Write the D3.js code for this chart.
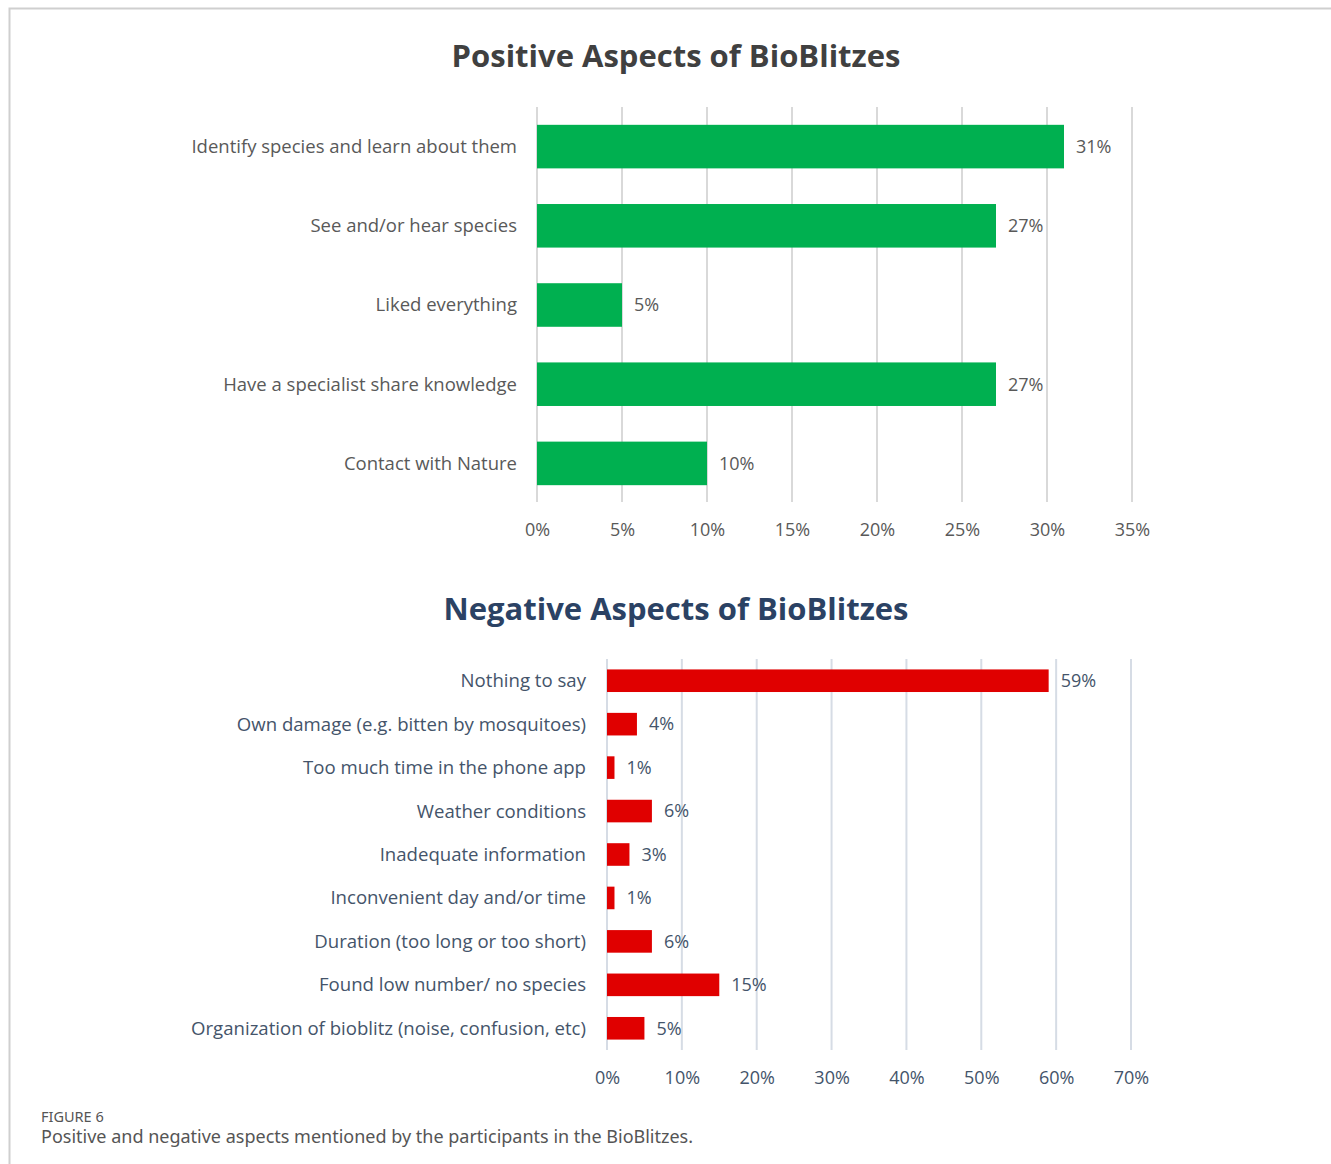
<!DOCTYPE html>
<html><head><meta charset="utf-8">
<script src="https://cdn.jsdelivr.net/npm/d3@7"></script>
<style>body{margin:0;background:#fff;}svg{display:block;}</style>
</head><body>
<script>
const posCategories = ["Identify species and learn about them","See and/or hear species","Liked everything","Have a specialist share knowledge","Contact with Nature"];
const posValues = [31,27,5,27,10];
const posTicks = [0,5,10,15,20,25,30,35];
const negCategories = ["Nothing to say","Own damage (e.g. bitten by mosquitoes)","Too much time in the phone app","Weather conditions","Inadequate information","Inconvenient day and/or time","Duration (too long or too short)","Found low number/ no species","Organization of bioblitz (noise, confusion, etc)"];
const negValues = [59,4,1,6,3,1,6,15,5];
const negTicks = [0,10,20,30,40,50,60,70];

const W=1331,H=1164;
const svg=d3.select("body").append("svg").attr("width",W).attr("height",H);
const font="'Open Sans', 'Noto Sans', sans-serif";
// frame
svg.append("path").attr("d",`M9.5,${H} V8.5 H${W}`).attr("fill","none").attr("stroke","#cfcfcf").attr("stroke-width",2);

function chart(o){
  const x=d3.scaleLinear().domain([0,o.max]).range([o.x0,o.x1]);
  const y=d3.scaleBand().domain(o.cats).range([o.y0,o.y1]).paddingInner(o.pad).paddingOuter(o.pad/2);
  const g=svg.append("g");
  g.selectAll(".grid").data(o.ticks).join("line")
    .attr("x1",d=>x(d)).attr("x2",d=>x(d)).attr("y1",o.gy0).attr("y2",o.gy1)
    .attr("stroke",o.grid).attr("stroke-width",2);
  const ax=d3.axisBottom(x).tickValues(o.ticks).tickFormat(d=>d+"%").tickSize(0);
  const axg=g.append("g").attr("transform",`translate(0,${o.axY})`).call(ax);
  axg.select(".domain").remove();
  axg.selectAll("text").attr("font-family",font).attr("font-size",o.fs).attr("fill",o.tc).attr("dy","0");
  g.selectAll(".bar").data(o.vals).join("rect")
    .attr("x",x(0)).attr("y",(d,i)=>y(o.cats[i])).attr("width",d=>x(d)-x(0)).attr("height",y.bandwidth()).attr("fill",o.color);
  g.selectAll(".vl").data(o.vals).join("text")
    .attr("x",d=>x(d)+o.vOff).attr("y",(d,i)=>y(o.cats[i])+y.bandwidth()/2).attr("dy","0.35em")
    .attr("font-family",font).attr("font-size",o.fs).attr("fill",o.tc).text(d=>d+"%");
  g.selectAll(".cl").data(o.cats).join("text")
    .attr("x",o.labX).attr("y",d=>y(d)+y.bandwidth()/2).attr("dy","0.35em").attr("text-anchor","end")
    .attr("font-family",font).attr("font-size",o.lfs).attr("fill",o.tc).text(d=>d);
  svg.append("text").attr("x",o.tx).attr("y",o.ty).attr("text-anchor","middle")
    .attr("font-family",font).attr("font-weight","bold").attr("font-size",o.tfs).attr("fill",o.ttc).text(o.title);
}

chart({cats:posCategories,vals:posValues,ticks:posTicks,max:35,x0:537,x1:1132,y0:107,y1:503,pad:0.45,
  gy0:107,gy1:502,grid:"#d9d9d9",axY:533,fs:18,lfs:18.5,tc:"#595959",color:"#00b050",vOff:12,labX:517,
  title:"Positive Aspects of BioBlitzes",tx:676,ty:67,tfs:31,ttc:"#404040"});
chart({cats:negCategories,vals:negValues,ticks:negTicks,max:70,x0:607,x1:1131,y0:659,y1:1050,pad:0.48,
  gy0:659,gy1:1050,grid:"#d6dce5",axY:1081,fs:18,lfs:18.6,tc:"#44546a",color:"#e00000",vOff:12,labX:586,
  title:"Negative Aspects of BioBlitzes",tx:676,ty:620,tfs:31,ttc:"#2b4264"});

svg.append("text").attr("x",41).attr("y",1122).attr("font-family","'Noto Sans', sans-serif").attr("font-size",14.5).attr("fill","#555").text("FIGURE 6");
svg.append("text").attr("x",41).attr("y",1143).attr("font-family","'Noto Sans', sans-serif").attr("font-size",18).attr("fill","#555").text("Positive and negative aspects mentioned by the participants in the BioBlitzes.");
</script>
</body></html>
